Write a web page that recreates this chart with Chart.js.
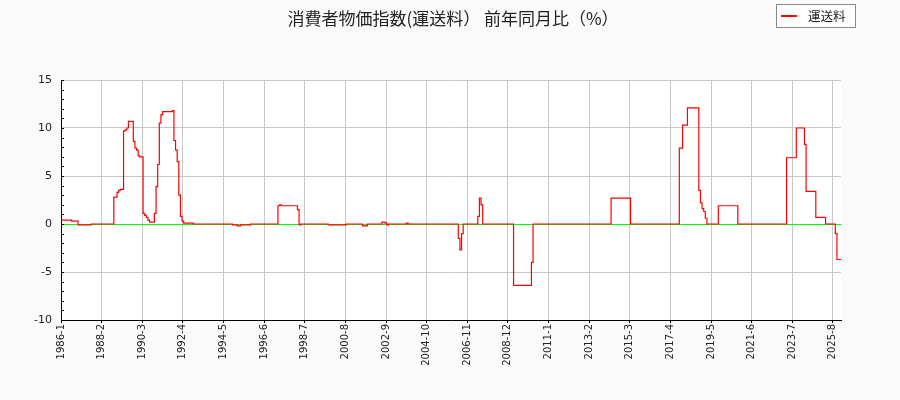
<!DOCTYPE html>
<html>
<head>
<meta charset="utf-8">
<title>消費者物価指数(運送料) 前年同月比</title>
<script src="https://cdn.jsdelivr.net/npm/chart.js@4.4.1/dist/chart.umd.min.js"></script>
<style>
  html, body { margin: 0; padding: 0; background: #fafafa; }
  #wrap { width: 900px; height: 400px; }
</style>
</head>
<body>
<div id="wrap"><canvas id="cpiChart" width="900" height="400"></canvas></div>
<script>
// 運送料 前年同月比 (%), monthly from 1986-1, one row per year
const yoyValues = [
  0.4, 0.4, 0.4, 0.4, 0.4, 0.4, 0.4, 0.3, 0.3, 0.3, 0.3, -0.1,      // 1986
  -0.1, -0.1, -0.1, -0.1, -0.1, -0.1, -0.1, 0, 0, 0, 0, 0,          // 1987
  0, 0, 0, 0, 0, 0, 0, 0, 0, 2.8, 2.8, 3.3,                         // 1988
  3.5, 3.6, 3.6, 9.7, 9.8, 10.0, 10.7, 10.7, 10.7, 8.6, 7.9, 7.7,   // 1989
  7.1, 7.0, 7.0, 1.1, 0.9, 0.7, 0.4, 0.2, 0.2, 0.2, 1.1, 3.9,       // 1990
  6.2, 10.5, 11.4, 11.7, 11.7, 11.7, 11.7, 11.7, 11.7, 11.8, 8.7, 7.7, // 1991
  6.5, 3.0, 0.8, 0.3, 0.1, 0.1, 0.1, 0.1, 0.1, 0.1, 0, 0,           // 1992
  0, 0, 0, 0, 0, 0, 0, 0, 0, 0, 0, 0,                               // 1993
  0, 0, 0, 0, 0, 0, 0, 0, 0, 0, -0.1, -0.1,                         // 1994
  -0.1, -0.2, -0.2, -0.1, -0.1, -0.1, -0.1, -0.1, -0.1, 0, 0, 0,    // 1995
  0, 0, 0, 0, 0, 0, 0, 0, 0, 0, 0, 0,                               // 1996
  0, 0, 1.9, 2.0, 1.9, 1.9, 1.9, 1.9, 1.9, 1.9, 1.9, 1.9,           // 1997
  1.9, 1.9, 1.5, -0.1, 0, 0, 0, 0, 0, 0, 0, 0,                      // 1998
  0, 0, 0, 0, 0, 0, 0, 0, 0, -0.1, -0.1, -0.1,                      // 1999
  -0.1, -0.1, -0.1, -0.1, -0.1, -0.1, -0.1, -0.1, 0, 0, 0, 0,       // 2000
  0, 0, 0, 0, 0, 0, -0.2, -0.2, -0.2, 0, 0, 0,                      // 2001
  0, 0, 0, 0, 0, 0, 0.2, 0.2, 0.1, -0.1, 0, 0,                      // 2002
  0, 0, 0, 0, 0, 0, 0, 0, 0, 0.1, 0, 0,                             // 2003
  0, 0, 0, 0, 0, 0, 0, 0, 0, 0, 0, 0,                               // 2004
  0, 0, 0, 0, 0, 0, 0, 0, 0, 0, 0, 0,                               // 2005
  0, 0, 0, 0, 0, -1.5, -2.7, -1.0, 0, 0, 0, 0,                      // 2006
  0, 0, 0, 0, 0, 0.8, 2.7, 2.0, 0, 0, 0, 0,                         // 2007
  0, 0, 0, 0, 0, 0, 0, 0, 0, 0, 0, 0,                               // 2008
  0, 0, 0, -6.4, -6.4, -6.4, -6.4, -6.4, -6.4, -6.4, -6.4, -6.4,    // 2009
  -6.4, -6.4, -4.0, 0, 0, 0, 0, 0, 0, 0, 0, 0,                      // 2010
  0, 0, 0, 0, 0, 0, 0, 0, 0, 0, 0, 0,                               // 2011
  0, 0, 0, 0, 0, 0, 0, 0, 0, 0, 0, 0,                               // 2012
  0, 0, 0, 0, 0, 0, 0, 0, 0, 0, 0, 0,                               // 2013
  0, 0, 0, 2.7, 2.7, 2.7, 2.7, 2.7, 2.7, 2.7, 2.7, 2.7,             // 2014
  2.7, 2.7, 2.7, 0, 0, 0, 0, 0, 0, 0, 0, 0,                         // 2015
  0, 0, 0, 0, 0, 0, 0, 0, 0, 0, 0, 0,                               // 2016
  0, 0, 0, 0, 0, 0, 0, 0, 0, 7.9, 7.9, 10.3,                        // 2017
  10.3, 10.3, 12.1, 12.1, 12.1, 12.1, 12.1, 12.1, 12.1, 3.5, 2.2, 1.6, // 2018
  1.3, 0.6, 0, 0, 0, 0, 0, 0, 0, 1.9, 1.9, 1.9,                     // 2019
  1.9, 1.9, 1.9, 1.9, 1.9, 1.9, 1.9, 1.9, 1.9, 0, 0, 0,             // 2020
  0, 0, 0, 0, 0, 0, 0, 0, 0, 0, 0, 0,                               // 2021
  0, 0, 0, 0, 0, 0, 0, 0, 0, 0, 0, 0,                               // 2022
  0, 0, 0, 6.9, 6.9, 6.9, 6.9, 6.9, 6.9, 10.0, 10.0, 10.0,          // 2023
  10.0, 10.0, 8.3, 3.4, 3.4, 3.4, 3.4, 3.4, 3.4, 0.7, 0.7, 0.7,     // 2024
  0.7, 0.7, 0.7, 0, 0, 0, 0, 0, 0, -1.0, -3.7, -3.7,                // 2025
  -3.7                                                              // 2026
];

const startYear = 1986;
const labelEvery = 25;          // a tick label every 25 months
const yMin = -10, yMax = 15;
const seriesName = '運送料';
const chartTitle = '消費者物価指数(運送料） 前年同月比（%）';

// month labels "YYYY-M"
const monthLabels = [];
for (let i = 0; i < yoyValues.length; i++) {
  monthLabels.push(`${startYear + Math.floor(i / 12)}-${(i % 12) + 1}`);
}

const frame = {
  id: 'frame',
  beforeDraw(chart) {
    const { ctx, chartArea: a } = chart;
    ctx.save();
    ctx.fillStyle = '#fafafa';
    ctx.fillRect(0, 0, chart.width, chart.height);
    ctx.fillStyle = '#ffffff';
    ctx.fillRect(a.left, a.top, a.right - a.left, a.bottom - a.top);
    ctx.restore();
  },
  afterDraw(chart) {
    const { ctx, chartArea: a } = chart;
    const y = chart.scales.y;
    ctx.save();
    // small inward ticks on the y axis
    ctx.strokeStyle = '#000';
    ctx.lineWidth = 1;
    ctx.beginPath();
    for (let v = yMin; v <= yMax; v++) {
      const py = Math.round(y.getPixelForValue(v)) + 0.5;
      ctx.moveTo(a.left, py);
      ctx.lineTo(a.left + 3, py);
    }
    ctx.stroke();

    // title
    ctx.fillStyle = '#222';
    ctx.font = '17px "Noto Sans CJK JP"';
    ctx.textAlign = 'center';
    ctx.textBaseline = 'middle';
    ctx.fillText(chartTitle, 453, 19);

    // legend box
    ctx.fillStyle = '#fff';
    ctx.fillRect(776.5, 4.5, 79, 23);
    ctx.strokeStyle = '#888';
    ctx.strokeRect(776.5, 4.5, 79, 23);
    ctx.strokeStyle = '#ff0000';
    ctx.lineWidth = 2;
    ctx.beginPath();
    ctx.moveTo(781, 16);
    ctx.lineTo(797, 16);
    ctx.stroke();
    ctx.fillStyle = '#222';
    ctx.font = '12.5px "Noto Sans CJK JP"';
    ctx.textAlign = 'left';
    ctx.fillText(seriesName, 808, 16);
    ctx.restore();
  }
};

new Chart(document.getElementById('cpiChart'), {
  type: 'line',
  data: {
    labels: monthLabels,
    datasets: [{
      label: seriesName,
      data: yoyValues,
      borderColor: '#ff0000',
      borderWidth: 1.2,
      pointRadius: 0,
      stepped: 'middle',
      fill: false
    }]
  },
  options: {
    responsive: false,
    animation: false,
    devicePixelRatio: 1,
    layout: { padding: { left: 0, right: 59, top: 80, bottom: 0 } },
    plugins: {
      legend: { display: false },
      title: { display: false },
      tooltip: { enabled: false }
    },
    scales: {
      x: {
        type: 'category',
        afterBuildTicks: (scale) => {
          scale.ticks = scale.ticks.filter(t => t.value % labelEvery === 0);
        },
        afterFit: (scale) => { scale.height = 80; },
        border: { display: true, color: '#000', width: 1 },
        grid: {
          color: '#c8c8c8',
          lineWidth: 1,
          drawTicks: true,
          tickLength: 3,
          tickColor: '#000'
        },
        ticks: {
          autoSkip: false,
          minRotation: 90,
          maxRotation: 90,
          padding: 1,
          color: '#222',
          font: { family: 'DejaVu Sans', size: 10 }
        }
      },
      y: {
        min: yMin,
        max: yMax,
        afterFit: (scale) => { scale.width = 61; },
        border: { display: true, color: '#000', width: 1 },
        grid: {
          drawTicks: false,
          lineWidth: 1,
          color: (ctx) => {
            const v = ctx.tick.value;
            if (v === 0) return '#00ff00';
            return v % 5 === 0 ? '#c8c8c8' : 'rgba(0,0,0,0)';
          }
        },
        ticks: {
          stepSize: 1,
          autoSkip: false,
          padding: 9,
          color: '#222',
          font: { family: 'DejaVu Sans', size: 11 },
          callback: (v) => (v % 5 === 0 ? v : '')
        }
      }
    }
  },
  plugins: [frame]
});
</script>
</body>
</html>
